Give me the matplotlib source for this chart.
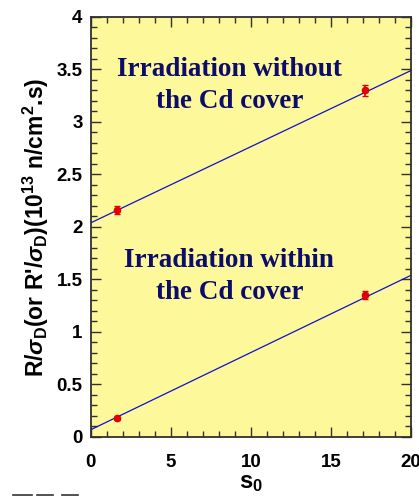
import matplotlib
matplotlib.use('Agg')
import matplotlib.pyplot as plt
from matplotlib.lines import Line2D
from matplotlib.ticker import MultipleLocator

# measured points (s0, R/sigma) with uncertainties
s0_pts = [1.6, 17.1]
bare_vals = [2.16, 3.30]
bare_err = [0.04, 0.05]
cd_vals = [0.18, 1.35]
cd_err = [0.015, 0.04]

# fitted straight lines over the full s0 range
fit_s0 = [0, 20]
bare_fit = [2.04, 3.49]
cd_fit = [0.07, 1.54]

plt.rcParams['font.family'] = ['Liberation Sans', 'DejaVu Sans']
plt.rcParams['font.weight'] = 'bold'
plt.rcParams['mathtext.fontset'] = 'custom'
plt.rcParams['mathtext.rm'] = 'Liberation Sans:bold'
plt.rcParams['mathtext.bf'] = 'Liberation Sans:bold'
plt.rcParams['mathtext.it'] = 'Liberation Sans:italic'
plt.rcParams['mathtext.default'] = 'bf'

fig = plt.figure(figsize=(4.19, 4.98), dpi=100)
ax = fig.add_axes([0.217, 0.1225, 0.764, 0.8435])
ax.set_facecolor('#fdf99b')

ax.plot(fit_s0, bare_fit, color='#1010d0', lw=0.9)
ax.plot(fit_s0, cd_fit, color='#1010d0', lw=0.9)
for vals, errs in [(bare_vals, bare_err), (cd_vals, cd_err)]:
    ax.errorbar(s0_pts, vals, yerr=errs, fmt='o', color='#e00000', ms=4.5,
                elinewidth=1.2, capsize=2.5, capthick=1, zorder=3)

txt_kw = dict(ha='center', va='center', color='#0c0c6a', fontsize=19.5,
              fontweight='bold', family='Liberation Serif', linespacing=1.35)
ax.text(8.65, 3.35, 'Irradiation without\nthe Cd cover', **txt_kw)
ax.text(8.65, 1.53, 'Irradiation within\nthe Cd cover', **txt_kw)

ax.set_xlim(0, 20)
ax.set_ylim(0, 4)
ax.xaxis.set_major_locator(MultipleLocator(5))
ax.xaxis.set_minor_locator(MultipleLocator(1))
ax.yaxis.set_major_locator(MultipleLocator(0.5))
ax.yaxis.set_minor_locator(MultipleLocator(0.1))
ax.tick_params(which='both', direction='in', top=True, right=True,
               labelsize=13.5, width=1, color='#303030')
ax.tick_params(which='major', length=7)
ax.tick_params(axis='x', which='major', pad=12)
ax.tick_params(axis='y', which='major', pad=6)
ax.tick_params(which='minor', length=4)
ax.xaxis.set_major_formatter(plt.FuncFormatter(lambda v, p: f'{v:g}'))
ax.yaxis.set_major_formatter(plt.FuncFormatter(lambda v, p: f'{v:g}'))
for sp in ax.spines.values():
    sp.set_linewidth(1.3)
    sp.set_color('#303030')

ax.set_xlabel(r's$_{0}$', fontsize=17, fontweight='bold', labelpad=0)
ax.set_ylabel(r"R/$\mathit{\sigma}_{\rm D}$(or R'/$\mathit{\sigma}_{\rm D}$)(10$^{13}$ n/cm$^{2}$.s)",
              fontsize=16.5, fontweight='bold', labelpad=4)

# leftover dashes in the lower-left corner
for x0, x1 in [(13, 32), (37, 53), (62, 78)]:
    fig.add_artist(Line2D([x0 / 419, x1 / 419], [1 - 495 / 498] * 2,
                          color='#333333', lw=1.2))

fig.savefig('out.png', dpi=100)
